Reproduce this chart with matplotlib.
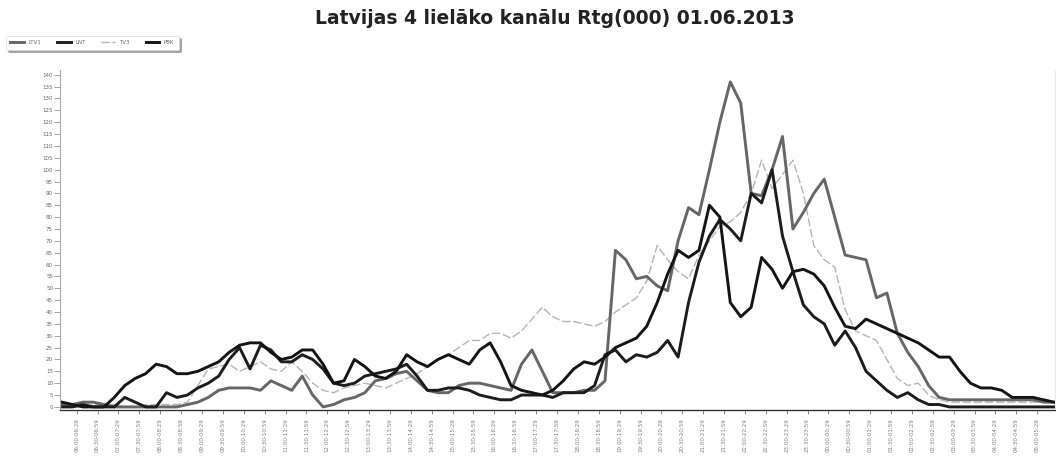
import matplotlib
matplotlib.use("Agg")
import matplotlib.pyplot as plt
import numpy as np

title = "Latvijas 4 lielāko kanālu Rtg(000) 01.06.2013"
series_names = ["LTV1", "LNT", "TV3", "PBK"]

# 15-minute slots starting 06:00
slot_start_hour = 6
n_slots = 96

ltv1 = [1, 1, 2, 2, 1, 0, 0, 0, 0, 0, 0, 0, 1, 2, 4, 7, 8, 8, 8, 7,
        11, 9, 7, 13, 5, 0, 1, 3, 4, 6, 11, 12, 14, 15, 11, 7, 6, 6, 9, 10,
        10, 9, 8, 7, 18, 24, 15, 6, 6, 6, 7, 7, 11, 66, 62, 54, 55, 51, 49, 70,
        84, 81, 100, 120, 137, 128, 90, 89, 100, 114, 75, 82, 90, 96, 80, 64, 63, 62, 46, 48,
        31, 23, 17, 9, 4, 3, 3, 3, 3, 3, 3, 3, 3, 3, 2, 2]

lnt = [0, 0, 1, 0, 0, 0, 4, 2, 0, 0, 6, 4, 5, 8, 10, 13, 20, 25, 16, 26,
       24, 19, 19, 22, 20, 16, 10, 9, 10, 13, 14, 15, 16, 18, 13, 7, 7, 8, 8, 7,
       5, 4, 3, 3, 5, 5, 5, 4, 6, 6, 6, 9, 22, 24, 19, 22, 21, 23, 28, 21,
       44, 61, 72, 79, 75, 70, 90, 86, 100, 72, 57, 43, 38, 35, 26, 32, 25, 15, 11, 7,
       4, 6, 3, 1, 1, 0, 0, 0, 0, 0, 0, 0, 0, 0, 0, 0]

tv3 = [0, 0, 0, 1, 1, 1, 0, 0, 1, 1, 1, 1, 2, 9, 16, 17, 18, 15, 17, 19,
       16, 15, 19, 15, 10, 7, 6, 8, 9, 10, 9, 8, 10, 12, 14, 17, 20, 22, 25, 28,
       28, 31, 31, 29, 32, 37, 42, 38, 36, 36, 35, 34, 36, 40, 43, 46, 53, 68, 62, 57,
       54, 64, 70, 76, 78, 82, 90, 104, 92, 98, 104, 90, 68, 62, 59, 41, 32, 30, 28, 20,
       12, 9, 10, 5, 3, 2, 2, 2, 2, 2, 2, 2, 2, 2, 2, 2]

pbk = [2, 1, 0, 0, 0, 4, 9, 12, 14, 18, 17, 14, 14, 15, 17, 19, 23, 26, 27, 27,
       23, 20, 21, 24, 24, 18, 10, 11, 20, 17, 13, 12, 15, 22, 19, 17, 20, 22, 20, 18,
       24, 27, 19, 9, 7, 6, 5, 7, 11, 16, 19, 18, 21, 25, 27, 29, 34, 44, 56, 66,
       63, 66, 85, 80, 44, 38, 42, 63, 58, 50, 57, 58, 56, 51, 42, 34, 33, 37, 35, 33,
       31, 29, 27, 24, 21, 21, 15, 10, 8, 8, 7, 4, 4, 4, 3, 2]

y_ticks = list(range(0, 141, 5))

# tick labels every 30 minutes
tick_labels = []
for k in range(48):
    m = slot_start_hour * 60 + 30 * k
    h1, m1 = (m // 60) % 24, m % 60
    m2 = m + 29
    h2, mm2 = (m2 // 60) % 24, m2 % 60
    tick_labels.append(f"{h1:02d}:{m1:02d}-{h2:02d}:{mm2:02d}")

fig = plt.figure(figsize=(10.56, 4.68), dpi=100)
ax = fig.add_axes([60 / 1056, 1 - 410 / 468, (1055 - 60) / 1056, (410 - 70) / 468])

x = np.arange(n_slots)
styles = {
    "LTV1": dict(color="#666666", lw=2.1, ls="-"),
    "LNT": dict(color="#1c1c1c", lw=2.1, ls="-"),
    "TV3": dict(color="#b4b4b4", lw=1.0, ls=(0, (6, 2))),
    "PBK": dict(color="#141414", lw=2.1, ls="-"),
}
data = {"LTV1": ltv1, "LNT": lnt, "TV3": tv3, "PBK": pbk}
order = ["TV3", "LTV1", "LNT", "PBK"]
handles = {}
for name in order:
    (h,) = ax.plot(x, data[name], label=name, **styles[name])
    handles[name] = h

ax.set_xlim(-0.2, 95.1)
ax.set_ylim(-1.3, 142)
ax.set_yticks(y_ticks)
ax.set_yticklabels([str(v) for v in y_ticks], fontsize=4, color="#666666")
ax.set_xticks([1.4 + 2 * k for k in range(47)])
ax.set_xticklabels(tick_labels[:47], rotation=90, fontsize=4, color="#808080")
ax.tick_params(axis="y", direction="out", length=4, width=0.6, color="#999999", pad=1)
ax.tick_params(axis="x", direction="out", length=3, width=0.6, color="#777777", pad=3)

ax.spines["top"].set_visible(False)
ax.spines["right"].set_color("#e6e6e6")
ax.spines["right"].set_linewidth(0.6)
ax.spines["left"].set_color("#aaaaaa")
ax.spines["left"].set_linewidth(0.8)
ax.spines["bottom"].set_color("#333333")
ax.spines["bottom"].set_linewidth(1.0)

fig.text(555 / 1056, 1 - 18 / 468, title, ha="center", va="center",
         fontsize=13.5, fontweight="bold", color="#222222")

leg = fig.legend([handles[n] for n in series_names], series_names,
                 loc="upper left", bbox_to_anchor=(3 / 1056, 1 - 33 / 468),
                 ncol=4, fontsize=4, frameon=True, shadow=True,
                 handlelength=2.5, columnspacing=2.8, borderpad=0.8,
                 labelcolor="#666666")
leg.get_frame().set_edgecolor("#dddddd")
leg.get_frame().set_linewidth(0.5)

fig.savefig("out.png", dpi=100)
